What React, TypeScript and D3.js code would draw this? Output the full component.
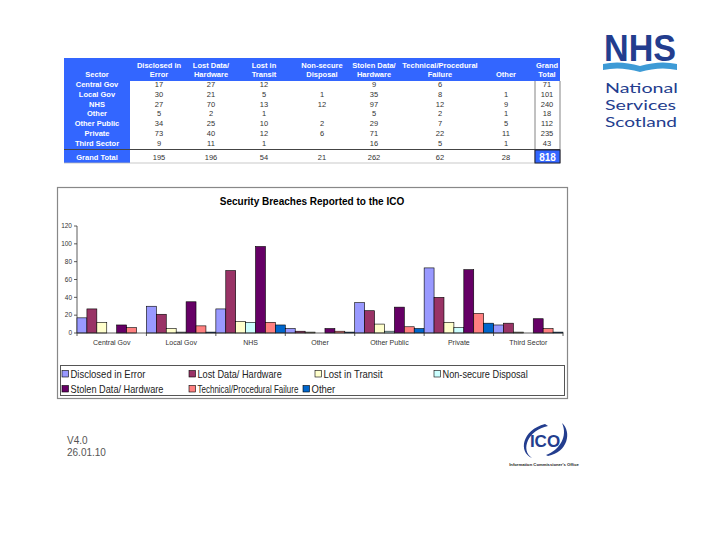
import React from "react";
import * as d3 from "d3";

const sectors = ["Central Gov", "Local Gov", "NHS", "Other", "Other Public", "Private", "Third Sector"];
const seriesNames = [
  "Disclosed in Error",
  "Lost Data/ Hardware",
  "Lost in Transit",
  "Non-secure Disposal",
  "Stolen Data/ Hardware",
  "Technical/Procedural Failure",
  "Other",
];
const headerLine1 = ["Disclosed in", "Lost Data/", "Lost in", "Non-secure", "Stolen Data/", "Technical/Procedural", ""];
const headerLine2 = ["Error", "Hardware", "Transit", "Disposal", "Hardware", "Failure", "Other"];
const colors = ["#9999FF", "#993366", "#FFFFCC", "#CCFFFF", "#660066", "#FF8080", "#0066CC"];
// values per series across sectors; null = blank in table
const disclosed = [17, 30, 27, 5, 34, 73, 9];
const lostData = [27, 21, 70, 2, 25, 40, 11];
const lostTransit = [12, 5, 13, 1, 10, 12, 1];
const nonSecure = [null, 1, 12, null, 2, 6, null];
const stolen = [9, 35, 97, 5, 29, 71, 16];
const technical = [6, 8, 12, 2, 7, 22, 5];
const other = [null, 1, 9, 1, 5, 11, 1];
const grandTotals = [71, 101, 240, 18, 112, 235, 43];
const columnTotals = [195, 196, 54, 21, 262, 62, 28];
const overallTotal = 818;
const yTicks = [0, 20, 40, 60, 80, 100, 120];

const series = [disclosed, lostData, lostTransit, nonSecure, stolen, technical, other];

export default function App() {
  const font = "Arial, 'Liberation Sans', sans-serif";
  const blue = "#3366FF";
  const navy = "#233D8E";

  // table geometry
  const colCenters = [159, 211, 264, 322, 374, 440, 506];
  const rowY = (i: number) => 87 + i * 9.8;

  // chart
  const x0 = d3.scaleBand().domain(sectors).range([77, 563]).paddingInner(0).paddingOuter(0);
  const x1 = d3.scaleBand().domain(seriesNames.map((_, i) => String(i))).range([0, x0.bandwidth()]).padding(0);
  const y = d3.scaleLinear().domain([0, 120]).range([333, 226]);

  const legendPos = [
    [62, 374], [189, 374], [315, 374], [434, 374],
    [62, 389], [189, 389], [303, 389],
  ];
  const legendScale = [0.95, 0.92, 0.95, 0.92, 0.92, 0.8, 0.95];

  return (
    <svg width={720} height={540} style={{ position: "absolute", left: 0, top: 0, background: "#fff" }} fontFamily={font}>
      <rect width={720} height={540} fill="#fff" />
      {/* TABLE */}
      <rect x={64} y={58} width={496} height={23} fill={blue} />
      <rect x={64} y={58} width={66} height={105} fill={blue} />
      <text x={97} y={77} fontSize={7.5} fontWeight="bold" fill="#fff" textAnchor="middle">Sector</text>
      {headerLine1.map((h, i) => (
        <text key={"h1" + i} x={colCenters[i]} y={68} fontSize={7.5} fontWeight="bold" fill="#fff" textAnchor="middle">{h}</text>
      ))}
      {headerLine2.map((h, i) => (
        <text key={"h2" + i} x={colCenters[i]} y={77} fontSize={7.5} fontWeight="bold" fill="#fff" textAnchor="middle">{h}</text>
      ))}
      <text x={547} y={68} fontSize={7.5} fontWeight="bold" fill="#fff" textAnchor="middle">Grand</text>
      <text x={547} y={77} fontSize={7.5} fontWeight="bold" fill="#fff" textAnchor="middle">Total</text>
      {sectors.map((s, r) => (
        <text key={"s" + r} x={97} y={rowY(r)} fontSize={7.5} fontWeight="bold" fill="#fff" textAnchor="middle">{s}</text>
      ))}
      {series.map((vals, c) =>
        vals.map((v, r) =>
          v === null ? null : (
            <text key={`v${c}-${r}`} x={colCenters[c]} y={rowY(r)} fontSize={7.5} fill="#333" textAnchor="middle">{v}</text>
          )
        )
      )}
      <line x1={535} x2={535} y1={81} y2={163} stroke="#666" strokeWidth={0.8} />
      <line x1={560} x2={560} y1={81} y2={163} stroke="#666" strokeWidth={0.8} />
      {grandTotals.map((v, r) => (
        <text key={"gt" + r} x={547} y={rowY(r)} fontSize={7.5} fill="#333" textAnchor="middle">{v}</text>
      ))}
      <line x1={64} x2={560} y1={149.5} y2={149.5} stroke="#444" strokeWidth={1} />
      <line x1={64} x2={560} y1={163} y2={163} stroke="#bbb" strokeWidth={0.8} />
      <text x={97} y={160} fontSize={7.5} fontWeight="bold" fill="#fff" textAnchor="middle">Grand Total</text>
      {columnTotals.map((v, c) => (
        <text key={"ct" + c} x={colCenters[c]} y={160} fontSize={7.5} fill="#333" textAnchor="middle">{v}</text>
      ))}
      <rect x={535} y={150} width={25} height={13} fill={blue} stroke="#223" strokeWidth={1} />
      <text x={547.5} y={160.5} fontSize={10} fontWeight="bold" fill="#fff" textAnchor="middle">{overallTotal}</text>

      {/* CHART BOX */}
      <rect x={57.5} y={187.5} width={510} height={211} fill="#fff" stroke="#888" strokeWidth={1.2} />
      <text x={312} y={205} fontSize={10} fontWeight="bold" fill="#000" textAnchor="middle">Security Breaches Reported to the ICO</text>
      {/* y axis */}
      <line x1={77} x2={77} y1={y(120)} y2={y(0)} stroke="#333" strokeWidth={0.8} />
      {yTicks.map((t) => (
        <g key={"yt" + t}>
          <line x1={74} x2={77} y1={y(t)} y2={y(t)} stroke="#333" strokeWidth={0.8} />
          <text x={72} y={y(t) + 2.2} fontSize={6.5} fill="#333" textAnchor="end">{t}</text>
        </g>
      ))}
      {/* bars */}
      {sectors.map((s, r) => (
        <g key={"g" + r}>
          {series.map((vals, c) => {
            const v = vals[r];
            if (v === null || v === 0) return null;
            const bx = (x0(s) as number) + (x1(String(c)) as number);
            return (
              <rect key={`b${c}`} x={bx} y={y(v)} width={x1.bandwidth()} height={y(0) - y(v)} fill={colors[c]} stroke="#000" strokeWidth={0.6} />
            );
          })}
        </g>
      ))}
      {/* x axis */}
      <line x1={77} x2={563} y1={y(0)} y2={y(0)} stroke="#333" strokeWidth={0.8} />
      {sectors.map((s, r) => (
        <g key={"xt" + r}>
          <line x1={(x0(s) as number) + x0.bandwidth()} x2={(x0(s) as number) + x0.bandwidth()} y1={y(0)} y2={y(0) + 3} stroke="#333" strokeWidth={0.8} />
          <text x={(x0(s) as number) + x0.bandwidth() / 2} y={345} fontSize={7} fill="#333" textAnchor="middle">{s}</text>
        </g>
      ))}
      <line x1={77} x2={77} y1={y(0)} y2={y(0) + 3} stroke="#333" strokeWidth={0.8} />
      {/* legend */}
      <rect x={60.5} y={365.5} width={504} height={30} fill="#fff" stroke="#555" strokeWidth={1} />
      {seriesNames.map((n, i) => (
        <g key={"lg" + i}>
          <rect x={legendPos[i][0]} y={legendPos[i][1] - 3.5} width={6.5} height={6.5} fill={colors[i]} stroke="#000" strokeWidth={0.6} />
          <g transform={`translate(${legendPos[i][0] + 8.5},${legendPos[i][1] + 3.5}) scale(${legendScale[i]},1)`}>
            <text x={0} y={0} fontSize={10} fill="#222">{n}</text>
          </g>
        </g>
      ))}

      {/* NHS logo */}
      <text x={604} y={61} fontSize={37} fontWeight="bold" fill={navy} textLength={72} lengthAdjust="spacingAndGlyphs">NHS</text>
      <path d="M603,64 Q620,60 640,66 Q660,60 677,64 L677,70 Q660,66 640,72 Q620,66 603,70 Z" fill="#3E9BD6" />
      <g fontFamily="Lato, 'Liberation Sans', sans-serif" fill={navy} fontSize={14}>
        <text x={605} y={93} textLength={73} lengthAdjust="spacingAndGlyphs">National</text>
        <text x={605} y={110} textLength={71} lengthAdjust="spacingAndGlyphs">Services</text>
        <text x={605} y={127} textLength={72} lengthAdjust="spacingAndGlyphs">Scotland</text>
      </g>

      {/* version */}
      <text x={67} y={444} fontSize={10} fill="#555">V4.0</text>
      <text x={67} y={456} fontSize={10} fill="#555">26.01.10</text>

      {/* ICO logo */}
      <path d="M545,424 C522,430 518,452 532,458 C520,450 528,430 548,426 Z" fill={navy} />
      <path d="M548,456 C568,452 572,432 562,423 C568,436 560,450 546,455 Z" fill={navy} />
      <text x={545} y={447} fontSize={17} fontWeight="bold" fill={navy} textAnchor="middle">ICO</text>
      <text x={544} y={466} fontSize={4.2} fill="#222" textAnchor="middle" fontWeight="bold">Information Commissioner's Office</text>
    </svg>
  );
}
